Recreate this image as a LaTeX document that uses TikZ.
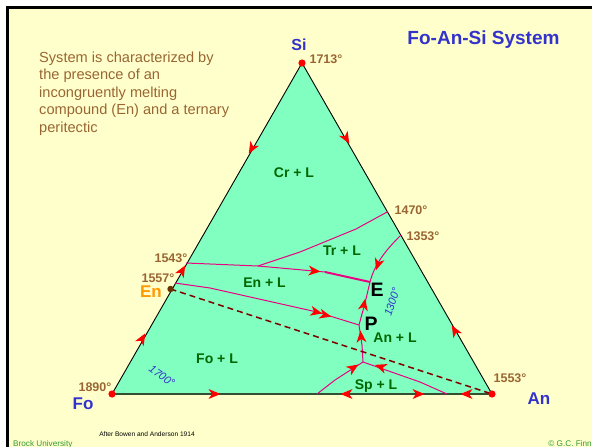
\documentclass[tikz,border=0pt]{standalone}
\usepackage{fontspec}
\setmainfont{Liberation Sans}
\definecolor{bgyellow}{RGB}{255,255,204}
\definecolor{trifill}{RGB}{128,255,192}
\definecolor{tempbrown}{RGB}{153,102,51}
\definecolor{labblue}{RGB}{51,51,204}
\definecolor{reggreen}{RGB}{0,102,0}
\definecolor{curvemag}{RGB}{235,0,130}
\definecolor{arrowred}{RGB}{255,0,0}
\definecolor{dashred}{RGB}{128,0,0}
\definecolor{enbrown}{RGB}{102,51,0}
\definecolor{enorange}{RGB}{255,153,0}
\definecolor{basegreen}{RGB}{51,80,51}
\definecolor{footgreen}{RGB}{51,153,51}
\tikzset{
  arrowtip/.pic={\fill[arrowred] (6.5,0) -- (-5.5,5) -- (-2,0) -- (-5.5,-5) -- cycle;},
  templab/.style={font=\bfseries\fontsize{12.5}{14}\selectfont, text=tempbrown, inner sep=0pt},
  vertlab/.style={font=\bfseries\fontsize{17}{19}\selectfont, text=labblue, inner sep=0pt},
  reglab/.style={font=\bfseries\fontsize{14}{16}\selectfont, text=reggreen, inner sep=0pt},
  ptlab/.style={font=\bfseries\fontsize{19.5}{22}\selectfont, text=black, inner sep=0pt},
  isolab/.style={font=\itshape\fontsize{11}{13}\selectfont, text=labblue, inner sep=0pt},
  desc/.style={font=\fontsize{14.6}{17.5}\selectfont, text=tempbrown, inner sep=0pt, anchor=base west},
  cotectic/.style={draw=curvemag, line width=1pt, line join=round},
  foot/.style={font=\fontsize{8.2}{10}\selectfont, text=footgreen, inner sep=0pt},
}
\begin{document}
\begin{tikzpicture}[x=1pt,y=-1pt]
\useasboundingbox (0,0) rectangle (592,447);
\fill[white] (0,0) rectangle (592,447);
\fill[bgyellow] (8,8) rectangle (592,447);
\draw[black, line width=2.5pt] (7.5,447) -- (7.5,7.5) -- (592,7.5);

% vertices
\coordinate (Si) at (302,63);
\coordinate (Fo) at (112,394);
\coordinate (An) at (492,394);
\coordinate (En) at (170.5,289);
\coordinate (p1470) at (388,211.5);
\coordinate (p1353) at (401,235);
\coordinate (p1543) at (186,263);
\coordinate (p1557) at (175,283);
\coordinate (J1) at (258,266);
\coordinate (E) at (370,282);
\coordinate (P) at (359,325);
\coordinate (J2) at (363,362);
\coordinate (B1) at (317,394);
\coordinate (B2) at (447,394);

% triangle
\fill[trifill] (Fo) -- (Si) -- (An) -- cycle;
\draw[black, line width=0.9pt] (Fo) -- (Si) -- (An);
\draw[basegreen, line width=1.6pt] (Fo) -- (An);

% cotectic curves
\draw[cotectic] (p1470) -- (356,229) -- (300,252) -- (J1);
\draw[cotectic] (p1543) -- (J1) -- (325,272);
\draw[curvemag, line width=2pt] (325,272) -- (E);
\draw[cotectic] (p1353) .. controls (389,247) and (375,262) .. (E);
\draw[cotectic] (p1557) -- (210,288) -- (317,312) -- (P);
\draw[cotectic] (E) -- (365,303) -- (P);
\draw[cotectic] (P) -- (362,345) -- (J2);
\draw[cotectic] (J2) -- (335,380) -- (B1);
\draw[cotectic] (J2) -- (420,382) -- (B2);

% join line
\draw[dashred, line width=1.5pt, dash pattern=on 6pt off 4pt] (En) -- (An);

% arrows on edges
\pic[rotate=240] at (252,148) {arrowtip};
\pic[rotate=-60] at (346,138) {arrowtip};
\pic[rotate=60] at (182,271) {arrowtip};
\pic[rotate=60] at (142,339) {arrowtip};
\pic[rotate=120] at (455,331) {arrowtip};
\pic[rotate=0] at (214,394) {arrowtip};
\pic[rotate=180] at (347,394) {arrowtip};
\pic[rotate=0] at (418,394) {arrowtip};
\pic[rotate=180] at (467,394) {arrowtip};

% arrows on curves
\pic[rotate=-5] at (314,271) {arrowtip};
\pic[rotate=-108] at (378,264) {arrowtip};
\pic[rotate=-13] at (316,312) {arrowtip};
\pic[rotate=-14] at (325,315) {arrowtip};
\pic[rotate=78] at (364,305) {arrowtip};
\pic[rotate=95] at (361,337) {arrowtip};
\pic[rotate=33] at (353,368) {arrowtip};
\pic[rotate=161] at (381,367) {arrowtip};

% dots
\fill[red] (Si) circle (3.6);
\fill[red] (Fo) circle (3.6);
\fill[red] (An) circle (3.6);
\fill[enbrown] (En) circle (3.2);

% vertex labels
\node[vertlab, font=\bfseries\fontsize{16}{18}\selectfont] (lSi) at (299,45) {Si};
\node[vertlab] (lFo) at (83,404) {Fo};
\node[vertlab] (lAn) at (539,399) {An};
\node[vertlab, text=enorange] (lEn) at (151,292) {En};

% temperatures
\node[templab] (t1713) at (326,59) {1713°};
\node[templab] (t1470) at (411,210) {1470°};
\node[templab] (t1353) at (423,236) {1353°};
\node[templab] (t1543) at (171,258) {1543°};
\node[templab] (t1557) at (158,278) {1557°};
\node[templab] (t1890) at (95,387) {1890°};
\node[templab] (t1553) at (510,378) {1553°};

% fields
\node[reglab] (rCr) at (294,173) {Cr + L};
\node[reglab] (rTr) at (342,251) {Tr + L};
\node[reglab] (rEn) at (264.5,283) {En + L};
\node[reglab] (rAn) at (395,338) {An + L};
\node[reglab] (rFo) at (217,359) {Fo + L};
\node[reglab] (rSp) at (376,386) {Sp + L};

% invariant points
\node[ptlab] (lE) at (377,290) {E};
\node[ptlab] (lP) at (371,324) {P};

% isotherm labels
\node[isolab, rotate=72] (i1300) at (392,302) {1300°};
\node[isolab, rotate=-36] (i1700) at (162,376) {1700°};

% title
\node[font=\bfseries\fontsize{19}{22}\selectfont, text=labblue, inner sep=0pt] (title) at (483.5,40) {Fo-An-Si System};

% description
\node[desc] (d1) at (39,62) {System is characterized by};
\node[desc] (d2) at (39,79.5) {the presence of an};
\node[desc] (d3) at (39,97) {incongruently melting};
\node[desc] (d4) at (39,114.5) {compound (En) and a ternary};
\node[desc] (d5) at (39,132) {peritectic};

% footers
\node[font=\fontsize{6.6}{8}\selectfont, text=black, inner sep=0pt] (src) at (147,434) {After Bowen and Anderson 1914};
\node[foot, anchor=base west] (brock) at (13,446) {Brock University};
\node[foot, anchor=base east] (finn) at (592,446) {© G.C. Finn};
\end{tikzpicture}
\end{document}
